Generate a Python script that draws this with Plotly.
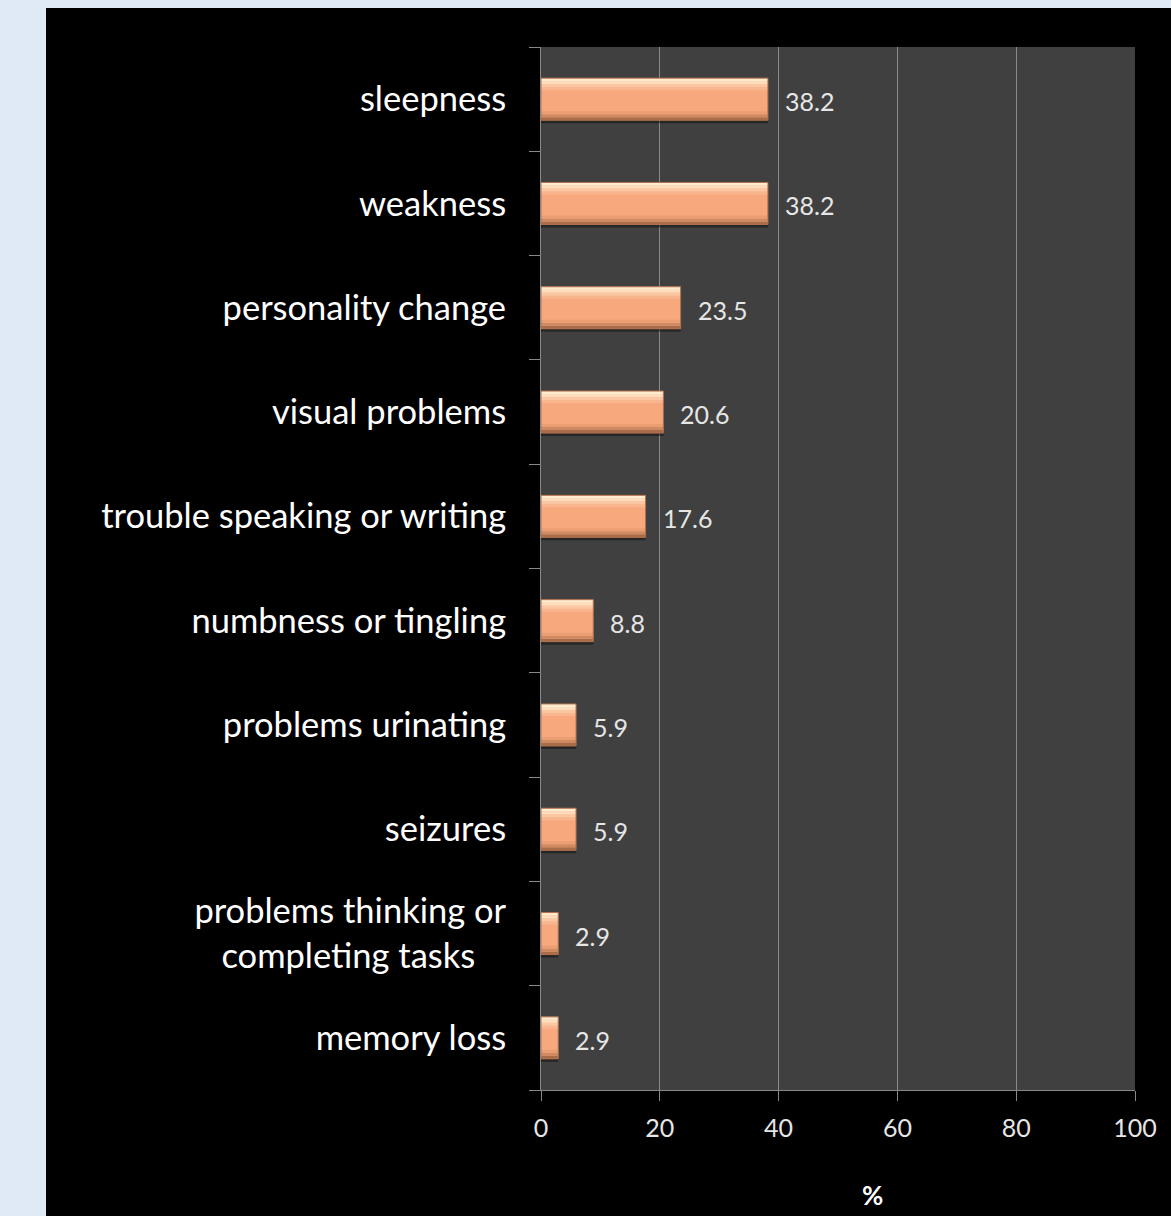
import plotly.graph_objects as go

# Symptom categories, listed top to bottom as they appear on the chart
symptoms = [
    "sleepness",
    "weakness",
    "personality change",
    "visual problems",
    "trouble speaking or writing",
    "numbness or tingling",
    "problems urinating",
    "seizures",
    "problems thinking or<br>completing tasks\u00a0\u00a0\u00a0\u2009",
    "memory loss",
]
percent = [38.2, 38.2, 23.5, 20.6, 17.6, 8.8, 5.9, 5.9, 2.9, 2.9]
value_labels = ["38.2", "38.2", "23.5", "20.6", "17.6", "8.8", "5.9", "5.9", "2.9", "2.9"]
x_ticks = [0, 20, 40, 60, 80, 100]

W, H = 1171, 1216
ML, MR, MT, MB = 541, 36, 47, 126
PW, PH = W - ML - MR, H - MT - MB
FONT = "Lato, 'Open Sans', sans-serif"

fig = go.Figure()

# Bars are built from stacked horizontal bands to give a bevelled, glossy look.
# Each band: (lower px, upper px) relative to the category centre, fill colour.
slot_px = PH / len(symptoms)
bands = [
    (-24, -20, "rgba(0,0,0,0.40)"),   # drop shadow
    (-21, 21, "#F7A87C"),             # body
    (-21, -18, "#A96C4A"),            # dark lower rim
    (-18, -15, "#CF8A62"),
    (-15, -12, "#EC9E73"),
    (9, 12, "#F9B68E"),               # gloss towards the top
    (12, 15, "#FBC7A2"),
    (15, 18, "#FEDDBC"),
    (18, 21, "#FFEBD0"),
]
for lo, hi, fill in bands:
    fig.add_trace(go.Bar(
        x=percent,
        y=symptoms,
        orientation="h",
        offset=lo / slot_px,
        width=(hi - lo) / slot_px,
        marker=dict(color=fill, line=dict(width=0)),
        hoverinfo="skip",
        showlegend=False,
    ))
# thin outline around the whole bar
fig.add_trace(go.Bar(
    x=percent, y=symptoms, orientation="h",
    offset=-21 / slot_px, width=42 / slot_px,
    marker=dict(color="rgba(0,0,0,0)", line=dict(color="#B0704C", width=1)),
    hoverinfo="skip", showlegend=False,
))

# Value labels to the right of each bar
for s, v, lab in zip(symptoms, percent, value_labels):
    fig.add_annotation(
        x=v, y=s, text=lab, showarrow=False,
        xanchor="left", yanchor="middle", xshift=15, yshift=-2,
        font=dict(family=FONT, size=25, color="#E6E6E6"),
    )

# Axis title placed under the tick labels
fig.add_annotation(
    xref="paper", yref="paper",
    x=(872 - ML) / PW, y=-(1195 - (H - MB)) / PH,
    text="<b>%</b>", showarrow=False,
    xanchor="center", yanchor="middle",
    font=dict(family=FONT, size=26, color="#FFFFFF"),
)

fig.update_layout(
    width=W, height=H,
    paper_bgcolor="#000000",
    plot_bgcolor="#404040",
    margin=dict(l=ML, r=MR, t=MT, b=MB),
    barmode="overlay",
    shapes=[
        # light page border on the left and along the top
        dict(type="rect", xref="paper", yref="paper",
             x0=-ML / PW, x1=(46 - ML) / PW, y0=-MB / PH, y1=1 + MT / PH,
             fillcolor="#DFEAF6", line=dict(width=0), layer="below"),
        dict(type="rect", xref="paper", yref="paper",
             x0=-ML / PW, x1=1 + MR / PW, y0=1 + (MT - 8) / PH, y1=1 + MT / PH,
             fillcolor="#DFEAF6", line=dict(width=0), layer="below"),
    ],
    xaxis=dict(
        range=[0, 100],
        tickvals=x_ticks,
        ticks="outside", ticklen=10, tickcolor="#888888", tickwidth=1,
        showgrid=True, gridcolor="#8A8A8A", gridwidth=1,
        showline=True, linecolor="#888888", linewidth=1,
        zeroline=False,
        ticklabelstandoff=6,
        tickfont=dict(family=FONT, size=25, color="#E6E6E6"),
        fixedrange=True,
    ),
    yaxis=dict(
        categoryorder="array",
        categoryarray=symptoms[::-1],
        tickson="boundaries",
        ticks="outside", ticklen=11, tickcolor="#888888", tickwidth=1,
        showline=True, linecolor="#888888", linewidth=1,
        showgrid=False,
        ticklabelstandoff=27,
        tickfont=dict(family=FONT, size=34.5, color="#FFFFFF"),
        fixedrange=True,
    ),
)

fig.write_html("out.html")
